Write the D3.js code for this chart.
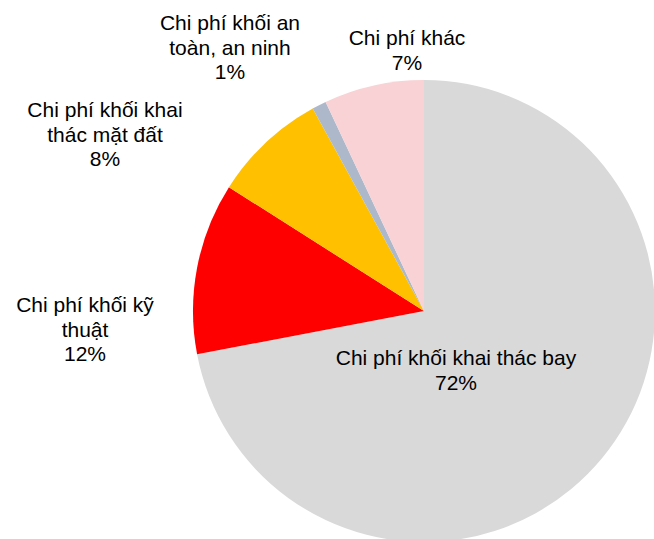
<!DOCTYPE html>
<html><head><meta charset="utf-8">
<script src="https://cdn.jsdelivr.net/npm/d3@7"></script>
<style>body{margin:0;background:#fff}svg{display:block}</style>
</head><body>
<svg id="chart" width="654" height="539"></svg>
<script>
const categories = ["Chi phí khối khai thác bay","Chi phí khối kỹ thuật","Chi phí khối khai thác mặt đất","Chi phí khối an toàn, an ninh","Chi phí khác"];
const values = [72, 12, 8, 1, 7];
const colors = ["#d9d9d9","#ff0000","#ffc000","#adb9ca","#f8d2d5"];
const labelLines = [
  ["Chi phí khối khai thác bay","72%"],
  ["Chi phí khối kỹ","thuật","12%"],
  ["Chi phí khối khai","thác mặt đất","8%"],
  ["Chi phí khối an","toàn, an ninh","1%"],
  ["Chi phí khác","7%"]
];
const labelPos = [[456,365],[85,312],[105,117],[230,30],[407,45]];

const svg = d3.select("#chart");
const cx = 424, cy = 311, r = 231;
const pie = d3.pie().sort(null).value(d => d)(values);
const arc = d3.arc().innerRadius(0).outerRadius(r);
const g = svg.append("g").attr("transform", `translate(${cx},${cy})`);
g.selectAll("path").data(pie).join("path")
  .attr("d", arc).attr("fill", (d,i) => colors[i]);

const lg = svg.append("g").attr("font-family","'Liberation Sans', Arial, sans-serif")
  .attr("font-size", 21).attr("fill","#000").attr("text-anchor","middle");
labelLines.forEach((lines, i) => {
  const t = lg.append("text").attr("x", labelPos[i][0]).attr("y", labelPos[i][1]);
  lines.forEach((s, j) => t.append("tspan").attr("x", labelPos[i][0]).attr("dy", j ? 24.5 : 0).text(s));
});
</script>
</body></html>
